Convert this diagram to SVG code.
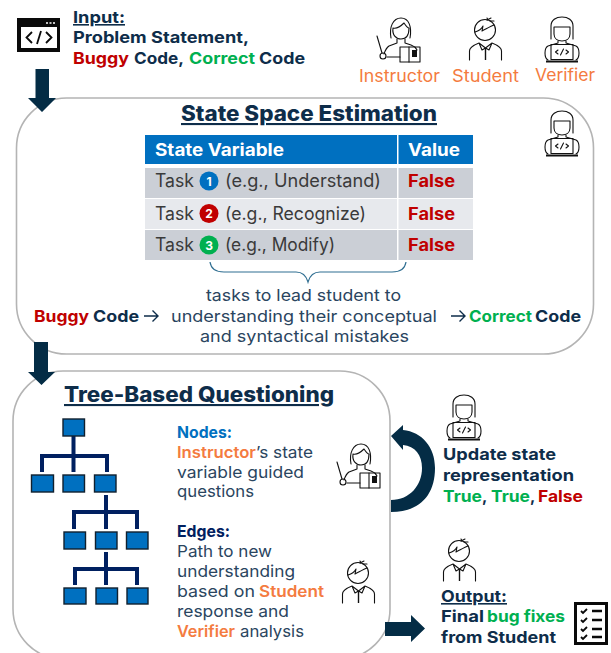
<svg xmlns="http://www.w3.org/2000/svg" width="611" height="653" viewBox="0 0 611 653">
<style>
text{font-family:Inter,"Open Sans","Liberation Sans",sans-serif;fill:#0E2D4A}
.b{font-weight:700;font-size:16px}
.r{font-weight:400;font-size:16.500px;fill:#2A4560}
.h{font-weight:800;font-size:21px;text-decoration:underline}
.o{fill:#F47B40}.g{fill:#00B050}.d{fill:#C00000}.l{fill:#0070C0}.n{fill:#002060}
.th{fill:#fff;font-weight:700;font-size:17px}
.td{fill:#3A3A3A;font-weight:400;font-size:18px}
.f{fill:#C00000;font-weight:700;font-size:17px}
.num{fill:#fff;font-weight:700;font-size:12px;text-anchor:middle}
.panel{fill:#fff;stroke:#B4B4B4;stroke-width:1.6}
.arrow{fill:#042C45}
.tb{fill:#0070C0;stroke:#10202E;stroke-width:1.4}
.tl{fill:none;stroke:#002060;stroke-width:4}
.ic{fill:none;stroke:#111;stroke-width:1.1;stroke-linecap:round;stroke-linejoin:round}
</style>
<defs>
<symbol id="verifier" viewBox="0 0 34 46" width="34" height="46" overflow="visible">
<path class="ic" d="M6 22V9C6 3 11 0 17 0S28 3 28 9V22M9 10H25M9 10V17C9 22 13 24 17 24S25 22 25 17V10"/>
<path class="ic" d="M13 24V26L3 29C1 30 0 33 0 36C0 40 1 42 3 43M21 24V26L31 29C33 30 34 33 34 36C34 40 33 42 31 43"/>
<rect class="ic" x="6" y="27.500" width="22" height="15"/>
<path d="M1 44.500H33" stroke="#111" stroke-width="2"/>
<path class="ic" d="M13 33L10.500 35L13 37M21 33L23.500 35L21 37M18.500 32L15.500 38"/>
</symbol>
<symbol id="instructor" viewBox="0 0 43 46" width="43" height="46" overflow="visible">
<path class="ic" d="M14 21C12 10 16 1 24 1S35 10 33 21M16 11C20 12 24 9 27 6C29 9 31 11 32 11M16 11C15 18 19 22 24 22S32 18 32 11"/>
<path class="ic" d="M20 22V26L12 29C9 31 8 34 7 37M28 22V26L34 28C37 29 39 31 40 33M10 40H23"/>
<path class="ic" d="M0 19L5 36"/>
<circle class="ic" cx="6" cy="39" r="3"/>
<rect class="ic" x="23" y="30" width="20" height="15" fill="#fff"/>
<path class="ic" d="M32 30V45"/>
<rect x="35" y="33" width="5" height="7" fill="#111"/>
</symbol>
<symbol id="student" viewBox="0 0 33 43" width="33" height="43" overflow="visible">
<circle class="ic" cx="16" cy="13" r="10.500"/>
<path class="ic" d="M6 15C10 14 12 13 14 9L13 14C17 12 22 9 25 8M18 3L22 1M21 4L25 4M18 1L19 3"/>
<path class="ic" d="M0.500 43V34C0.500 30 5 28 10 26L16.500 31L23 26C28 28 32.500 30 32.500 34V43M10 26L13 33L16.500 31L20 33L23 26"/>
<path d="M16.500 31V43" stroke="#111" stroke-width="1.400"/>
</symbol>
</defs>

<g id="state-space">
<rect class="panel" x="16.500" y="98" width="577" height="256" rx="50"/>
<text class="h" x="181" y="121" textLength="256" lengthAdjust="spacingAndGlyphs">State Space Estimation</text>
<use href="#verifier" x="545" y="111"/>
<g id="table">
<rect x="145" y="135" width="252" height="29" fill="#0070C0"/>
<rect x="398.500" y="135" width="74.500" height="29" fill="#0070C0"/>
<rect x="145" y="168" width="252" height="30" fill="#CBCFD6"/>
<rect x="398.500" y="168" width="74.500" height="30" fill="#CBCFD6"/>
<rect x="145" y="199" width="252" height="30" fill="#E7E9ED"/>
<rect x="398.500" y="199" width="74.500" height="30" fill="#E7E9ED"/>
<rect x="145" y="230" width="252" height="30" fill="#CBCFD6"/>
<rect x="398.500" y="230" width="74.500" height="30" fill="#CBCFD6"/>
<text class="th" x="155" y="156" textLength="129" lengthAdjust="spacingAndGlyphs">State Variable</text>
<text class="th" x="408" y="156" textLength="52" lengthAdjust="spacingAndGlyphs">Value</text>
<text class="td" x="155" y="187" textLength="39" lengthAdjust="spacingAndGlyphs">Task</text>
<circle cx="209" cy="181" r="9.500" fill="#0070C0"/><text class="num" x="209" y="185.500">1</text>
<text class="td" x="225" y="187" textLength="156" lengthAdjust="spacingAndGlyphs">(e.g., Understand)</text>
<text class="f" x="408" y="187" textLength="47" lengthAdjust="spacingAndGlyphs">False</text>
<text class="td" x="155" y="219.500" textLength="39" lengthAdjust="spacingAndGlyphs">Task</text>
<circle cx="209" cy="213.500" r="9.500" fill="#C00000"/><text class="num" x="209" y="218">2</text>
<text class="td" x="225" y="219.500" textLength="141" lengthAdjust="spacingAndGlyphs">(e.g., Recognize)</text>
<text class="f" x="408" y="219.500" textLength="47" lengthAdjust="spacingAndGlyphs">False</text>
<text class="td" x="155" y="251" textLength="39" lengthAdjust="spacingAndGlyphs">Task</text>
<circle cx="209" cy="245" r="9.500" fill="#00B050"/><text class="num" x="209" y="249.500">3</text>
<text class="td" x="225" y="251" textLength="110" lengthAdjust="spacingAndGlyphs">(e.g., Modify)</text>
<text class="f" x="408" y="251" textLength="47" lengthAdjust="spacingAndGlyphs">False</text>
</g>
<path d="M210 262C211 269 216 272 224 272H296C302 272 306 275 308 282C310 275 314 272 320 272H392C400 272 405 269 406 262" fill="none" stroke="#2F6E91" stroke-width="1.200"/>
<text class="r" x="206" y="301" textLength="195" lengthAdjust="spacingAndGlyphs">tasks to lead student to</text>
<text class="r" x="171" y="322" textLength="266" lengthAdjust="spacingAndGlyphs">understanding their conceptual</text>
<text class="r" x="200" y="342" textLength="209" lengthAdjust="spacingAndGlyphs">and syntactical mistakes</text>
<text class="b d" x="34" y="322" textLength="55" lengthAdjust="spacingAndGlyphs">Buggy</text>
<text class="b" x="93" y="322" textLength="46" lengthAdjust="spacingAndGlyphs">Code</text>
<path d="M144 316H158M152.500 310.500L158 316L152.500 321.500M451 316H465M459.500 310.500L465 316L459.500 321.500" fill="none" stroke="#0E2D4A" stroke-width="1.400"/>
<text class="b g" x="469" y="322" textLength="63" lengthAdjust="spacingAndGlyphs">Correct</text>
<text class="b" x="535" y="322" textLength="46" lengthAdjust="spacingAndGlyphs">Code</text>
</g>

<g id="tree-based">
<rect class="panel" x="13" y="371" width="377" height="288" rx="50"/>
<text class="h" x="64" y="402" textLength="270" lengthAdjust="spacingAndGlyphs">Tree-Based Questioning</text>
<g id="tree">
<path class="tl" d="M73.500 436V472M42 472V456H107V472M106 495V529M74 529V512H137V529M106 552V585M75 585V569H137V585"/>
<rect class="tb" x="63" y="419" width="21.500" height="17"/>
<rect class="tb" x="31.500" y="475" width="22" height="17"/><rect class="tb" x="63" y="475" width="21.500" height="17"/><rect class="tb" x="94.500" y="475" width="21.500" height="17"/>
<rect class="tb" x="64" y="532" width="21.500" height="17"/><rect class="tb" x="95.500" y="532" width="21.500" height="17"/><rect class="tb" x="126.500" y="532" width="21.500" height="17"/>
<rect class="tb" x="64" y="588" width="22" height="16"/><rect class="tb" x="96" y="588" width="21.500" height="16"/><rect class="tb" x="127" y="588" width="21" height="16"/>
</g>
<text class="b l" x="177" y="438" textLength="55" lengthAdjust="spacingAndGlyphs">Nodes:</text>
<text class="b o" style="font-weight:600" x="177" y="458" textLength="79" lengthAdjust="spacingAndGlyphs">Instructor</text>
<text class="r" x="256" y="458" textLength="57" lengthAdjust="spacingAndGlyphs">’s state</text>
<text class="r" x="177" y="478" textLength="127" lengthAdjust="spacingAndGlyphs">variable guided</text>
<text class="r" x="177" y="497" textLength="77" lengthAdjust="spacingAndGlyphs">questions</text>
<text class="b n" x="177" y="537" textLength="53" lengthAdjust="spacingAndGlyphs">Edges:</text>
<text class="r" x="177" y="557" textLength="95" lengthAdjust="spacingAndGlyphs">Path to new</text>
<text class="r" x="177" y="577" textLength="118" lengthAdjust="spacingAndGlyphs">understanding</text>
<text class="r" x="177" y="597" textLength="78" lengthAdjust="spacingAndGlyphs">based on</text>
<text class="b o" style="font-weight:600" x="259" y="597" textLength="65" lengthAdjust="spacingAndGlyphs">Student</text>
<text class="r" x="177" y="617" textLength="112" lengthAdjust="spacingAndGlyphs">response and</text>
<text class="b o" style="font-weight:600" x="177" y="637" textLength="58" lengthAdjust="spacingAndGlyphs">Verifier</text>
<text class="r" x="240" y="637" textLength="64" lengthAdjust="spacingAndGlyphs">analysis</text>
<use href="#instructor" x="337" y="443"/>
<use href="#student" x="342" y="560"/>
</g>

<g id="connectors">
<path id="arrow-input" class="arrow" d="M35.500 69H49V98H56L42 112L28 98H35.500Z"/>
<path id="arrow-tree" class="arrow" d="M34 342H48V372H55L41.500 385L28 372H34Z"/>
<path id="arrow-output" class="arrow" d="M385 622H411V615L425 628.500L411 642V636H385Z"/>
<path id="arrow-update" class="arrow" d="M391 512C420 512 435 495 435 468C435 447 422 432 403 430V425L391 436L403 450V445C415 446 422 455 422 468C422 485 410 500 391 500Z"/>
</g>

<g id="input">
<rect x="17" y="18" width="43" height="34" fill="#0A0A0A"/>
<rect x="21" y="27" width="36" height="21" fill="#fff"/>
<path d="M46 23H48M49.500 23H51.500M53 23H55" stroke="#fff" stroke-width="1.500"/>
<path d="M32 32L26.500 37.500L32 43M46 32L51.500 37.500L46 43M41 31L37 44" fill="none" stroke="#0A0A0A" stroke-width="1.800"/>
<text class="b" x="73" y="23" textLength="52" lengthAdjust="spacingAndGlyphs" style="text-decoration:underline">Input:</text>
<text class="b" x="73" y="43" textLength="176" lengthAdjust="spacingAndGlyphs">Problem Statement,</text>
<text class="b d" x="73" y="64" textLength="56" lengthAdjust="spacingAndGlyphs">Buggy</text>
<text class="b" x="134" y="64" textLength="50" lengthAdjust="spacingAndGlyphs">Code,</text>
<text class="b g" x="189" y="64" textLength="66" lengthAdjust="spacingAndGlyphs">Correct</text>
<text class="b" x="259" y="64" textLength="46" lengthAdjust="spacingAndGlyphs">Code</text>
</g>

<g id="instructor-legend">
<use href="#instructor" x="377" y="17"/>
<text class="o" style="font-size:17px" x="359" y="82" textLength="81" lengthAdjust="spacingAndGlyphs">Instructor</text>
</g>
<g id="student-legend">
<use href="#student" x="469" y="17"/>
<text class="o" style="font-size:17px" x="452" y="82" textLength="67" lengthAdjust="spacingAndGlyphs">Student</text>
</g>
<g id="verifier-legend">
<use href="#verifier" x="545" y="17"/>
<text class="o" style="font-size:17px" x="535" y="81" textLength="60" lengthAdjust="spacingAndGlyphs">Verifier</text>
</g>

<g id="update-state">
<use href="#verifier" x="447" y="395"/>
<text class="b" x="443" y="460" textLength="113" lengthAdjust="spacingAndGlyphs">Update state</text>
<text class="b" x="443" y="481" textLength="131" lengthAdjust="spacingAndGlyphs">representation</text>
<text class="b g" x="443" y="502" textLength="39" lengthAdjust="spacingAndGlyphs">True</text>
<text class="b" x="482" y="502">,</text>
<text class="b g" x="491" y="502" textLength="39" lengthAdjust="spacingAndGlyphs">True</text>
<text class="b" x="530" y="502">,</text>
<text class="b d" x="538" y="502" textLength="45" lengthAdjust="spacingAndGlyphs">False</text>
</g>

<g id="output">
<use href="#student" x="443" y="538"/>
<text class="b" x="441" y="602" textLength="66" lengthAdjust="spacingAndGlyphs" style="text-decoration:underline">Output:</text>
<text class="b" x="441" y="622" textLength="43" lengthAdjust="spacingAndGlyphs">Final</text>
<text class="b g" x="487" y="622" textLength="78" lengthAdjust="spacingAndGlyphs">bug fixes</text>
<text class="b" x="441" y="643" textLength="115" lengthAdjust="spacingAndGlyphs">from Student</text>
<rect x="575.500" y="603.500" width="31" height="40" fill="#fff" stroke="#0A0A0A" stroke-width="3"/>
<path d="M581 611L583 613L587 609M581 620L583 622L587 618M581 629L583 631L587 627M581 637L583 639L587 635" fill="none" stroke="#0A0A0A" stroke-width="1.800"/>
<path d="M592 611H602M592 620H602M592 629H602M592 637H602" stroke="#0A0A0A" stroke-width="2.400"/>
</g>
</svg>
